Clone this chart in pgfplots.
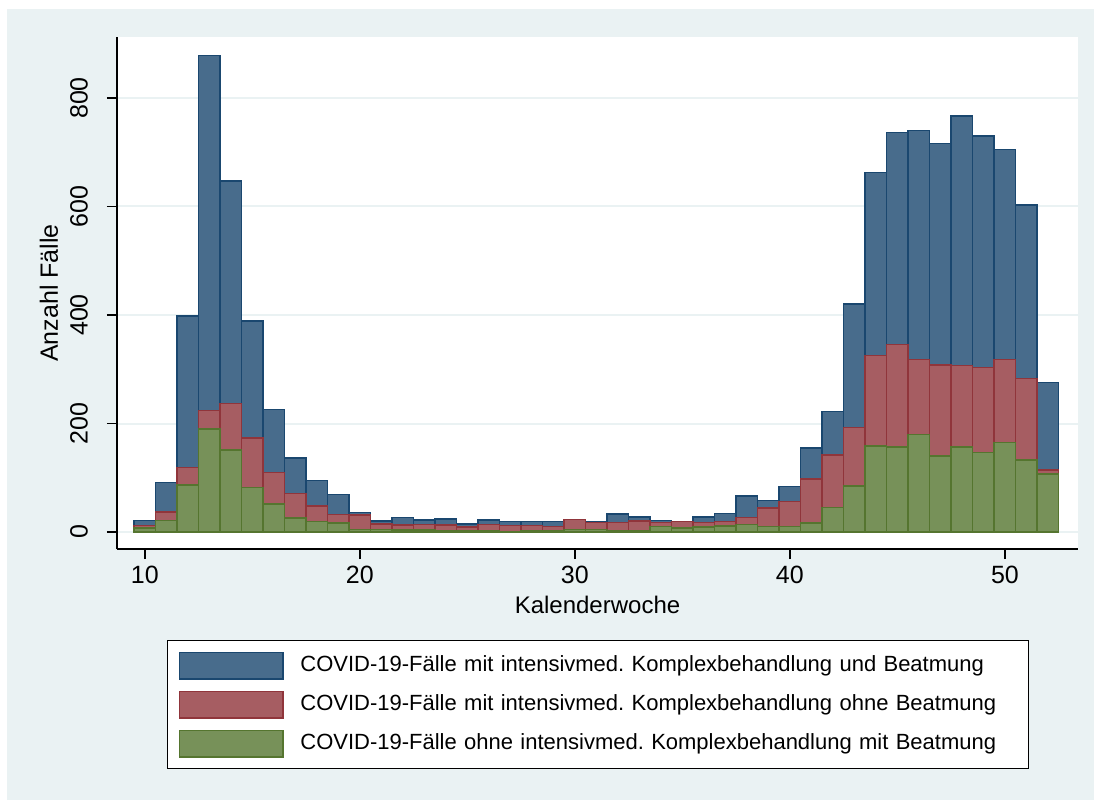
\documentclass[border=0pt]{standalone}
\usepackage{fontspec}
\setmainfont{Liberation Sans}
\usepackage{pgfplots}
\pgfplotsset{compat=1.18}
\definecolor{bgc}{RGB}{234,242,243}
\definecolor{navyE}{RGB}{26,71,111}
\definecolor{navyF}{RGB}{72,108,140}
\definecolor{maroonE}{RGB}{144,53,59}
\definecolor{maroonF}{RGB}{166,93,98}
\definecolor{greenE}{RGB}{85,117,47}
\definecolor{greenF}{RGB}{119,145,89}
\pgfplotstableread{
week blue red green
10 21 12 7
11 91 37 21
12 398 119 87
13 878 224 190
14 647 237 151
15 389 173 82
16 226 110 52
17 136 71 26
18 95 48 19
19 69 32 17
20 36 31 5
21 20 15 5
22 27 13 4
23 22 14 4
24 24 13 3
25 15 9 3
26 22 14 3
27 19 12 1
28 19 12 3
29 19 10 3
30 20 23 5
31 19 18 5
32 33 18 3
33 28 20 3
34 21 18 10
35 17 19 7
36 28 18 9
37 34 19 11
38 66 27 14
39 58 44 10
40 84 56 10
41 155 98 17
42 222 142 45
43 420 193 85
44 663 325 159
45 736 346 157
46 740 318 180
47 716 308 140
48 767 307 157
49 730 303 147
50 705 318 165
51 603 283 133
52 276 114 107
}\datatable
\pgfplotsset{
  mybar/.style={ybar, bar width=1, bar shift=0pt, line width=0.75bp,
    legend image code/.code={\draw[##1, line width=0.75bp] (0bp,-6.65bp) rectangle (51.7bp,6.65bp);}},
}
\begin{document}
\frenchspacing
\begin{tikzpicture}
\useasboundingbox (0,0) rectangle (547bp,400bp);
\fill[bgc] (3.5bp,0) rectangle (547bp,395.5bp);
\begin{axis}[
  at={(58.5bp,125.5bp)}, anchor=south west,
  scale only axis, width=480.5bp, height=256bp,
  xmin=8.707, xmax=53.4, ymin=-31.3, ymax=912.4,
  axis x line*=bottom, axis y line*=left,
  axis line style={line width=0.7bp, black},
  axis background/.style={fill=white},
  xtick={10,20,30,40,50}, ytick={0,200,400,600,800},
  tick align=outside, major tick length=5bp,
  tick style={line width=0.7bp, black},
  ymajorgrids, grid style={bgc, line width=1bp},
  /pgf/number format/assume math mode=true,
  tick label style={font=\fontsize{12.5bp}{15bp}\selectfont},
  yticklabel style={rotate=90, anchor=south, yshift=6bp},
  xlabel={Kalenderwoche}, ylabel={Anzahl Fälle},
  every axis x label/.style={at={([yshift=-28bp]rel axis cs:0.5,0)}, anchor=center, font=\fontsize{12bp}{15bp}\selectfont},
  every axis y label/.style={at={([xshift=-34bp]rel axis cs:0,0.5)}, anchor=center, rotate=90, font=\fontsize{12.5bp}{15bp}\selectfont},
  legend style={at={(rel axis cs:0,0)}, anchor=north west, xshift=25bp, yshift=-45.5bp,
    draw=black, line width=0.6bp, fill=white, inner xsep=5.65bp, inner ysep=2.75bp,
    font=\fontsize{11bp}{13bp}\selectfont, column sep=0pt, row sep=0pt,
    nodes={text width=350bp, align=left, inner xsep=8.3bp, text height=8bp, text depth=2.5bp, inner ysep=4.5bp}},
  legend cell align=left,
]
\addplot[mybar, fill=navyF, draw=navyE] table[x=week, y=blue] {\datatable};
\addlegendentry{COVID-19-Fälle mit intensivmed. Komplexbehandlung und Beatmung}
\addplot[mybar, fill=maroonF, draw=maroonE] table[x=week, y=red] {\datatable};
\addlegendentry{COVID-19-Fälle mit intensivmed. Komplexbehandlung ohne Beatmung}
\addplot[mybar, fill=greenF, draw=greenE] table[x=week, y=green] {\datatable};
\addlegendentry{COVID-19-Fälle ohne intensivmed. Komplexbehandlung mit Beatmung}
\end{axis}
\end{tikzpicture}
\end{document}
